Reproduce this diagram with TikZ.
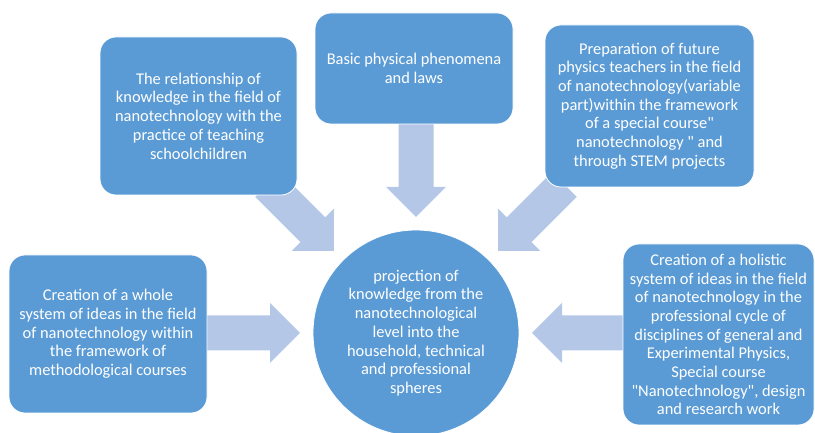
\documentclass[tikz,border=0pt]{standalone}
\usepackage{fontspec}
\setmainfont{Carlito}[Ligatures=TeXOff]
\usetikzlibrary{calc}

\definecolor{boxblue}{HTML}{5B9BD5}
\definecolor{arrowblue}{HTML}{B4C7E7}

\tikzset{
  idea/.style={rectangle, draw=white, line width=0.8pt, fill=boxblue,
    rounded corners=16pt, text=white, align=center, inner sep=0pt,
    font=\fontsize{16.4}{18.7}\selectfont},
  hub/.style={circle, draw=white, line width=0.8pt, fill=boxblue,
    text=white, align=center, inner sep=0pt, minimum size=206pt,
    font=\fontsize{16.4}{18.7}\selectfont},
  fatarrow/.style={fill=arrowblue, draw=none}
}

% Block arrow from #1 (tail) to #2 (tip): shaft 35pt wide, head 60pt wide, 30pt long
\newcommand\fatarrow[2]{%
  \coordinate (headbase) at ($(#2)!30pt!(#1)$);
  \fill[fatarrow]
    ($(#1)!17.5pt!90:(#2)$) --
    ($(headbase)!17.5pt!90:(#2)$) --
    ($(headbase)!30pt!90:(#2)$) --
    (#2) --
    ($(headbase)!30pt!-90:(#2)$) --
    ($(headbase)!17.5pt!-90:(#2)$) --
    ($(#1)!17.5pt!-90:(#2)$) -- cycle;
}

\begin{document}
\begin{tikzpicture}[x=1pt, y=1pt]
  \useasboundingbox (0,0) rectangle (815,433);

  % central goal
  \node[hub] (goal) at (416,100)
    {projection of\\knowledge from the\\nanotechnological\\level into the\\household, technical\\and professional\\spheres};

  % arrow ends around the central circle
  \coordinate (tailN)  at ($(goal.center)+(90:211pt)$);
  \coordinate (tipN)   at ($(goal.center)+(90:116pt)$);
  \coordinate (tailNW) at ($(goal.center)+(135:210pt)$);
  \coordinate (tipNW)  at ($(goal.center)+(135:116pt)$);
  \coordinate (tailNE) at ($(goal.center)+(45:210pt)$);
  \coordinate (tipNE)  at ($(goal.center)+(45:116pt)$);
  \coordinate (tailW)  at ($(goal.center)+(180:210pt)$);
  \coordinate (tipW)   at ($(goal.center)+(180:116pt)$);
  \coordinate (tailE)  at ($(goal.center)+(0:209pt)$);
  \coordinate (tipE)   at ($(goal.center)+(0:116pt)$);

  \fatarrow{tailN}{tipN}
  \fatarrow{tailNW}{tipNW}
  \fatarrow{tailNE}{tipNE}
  \fatarrow{tailW}{tipW}
  \fatarrow{tailE}{tipE}

  % surrounding boxes
  \node[idea, minimum width=197pt, minimum height=158pt] (practice) at (198.5,317)
    {The relationship of\\knowledge in the field of\\nanotechnology with the\\practice of teaching\\schoolchildren};
  \node[idea, minimum width=198pt, minimum height=111pt] (basics) at (414,364.5)
    {Basic physical phenomena\\and laws};
  \node[idea, minimum width=209pt, minimum height=162pt] (teachers) at (649.5,327)
    {Preparation of future\\physics teachers in the field\\of nanotechnology(variable\\part)within the framework\\of a special course"\\nanotechnology " and\\through STEM projects};
  \node[idea, minimum width=198pt, minimum height=158pt] (methods) at (108,99)
    {Creation of a whole\\system of ideas in the field\\of nanotechnology within\\the framework of\\methodological courses};
  \node[idea, minimum width=191pt, minimum height=181pt] (holistic) at (718.5,98.5)
    {Creation of a holistic\\system of ideas in the field\\of nanotechnology in the\\professional cycle of\\disciplines of general and\\Experimental Physics,\\Special course\\"Nanotechnology", design\\and research work};
\end{tikzpicture}
\end{document}
